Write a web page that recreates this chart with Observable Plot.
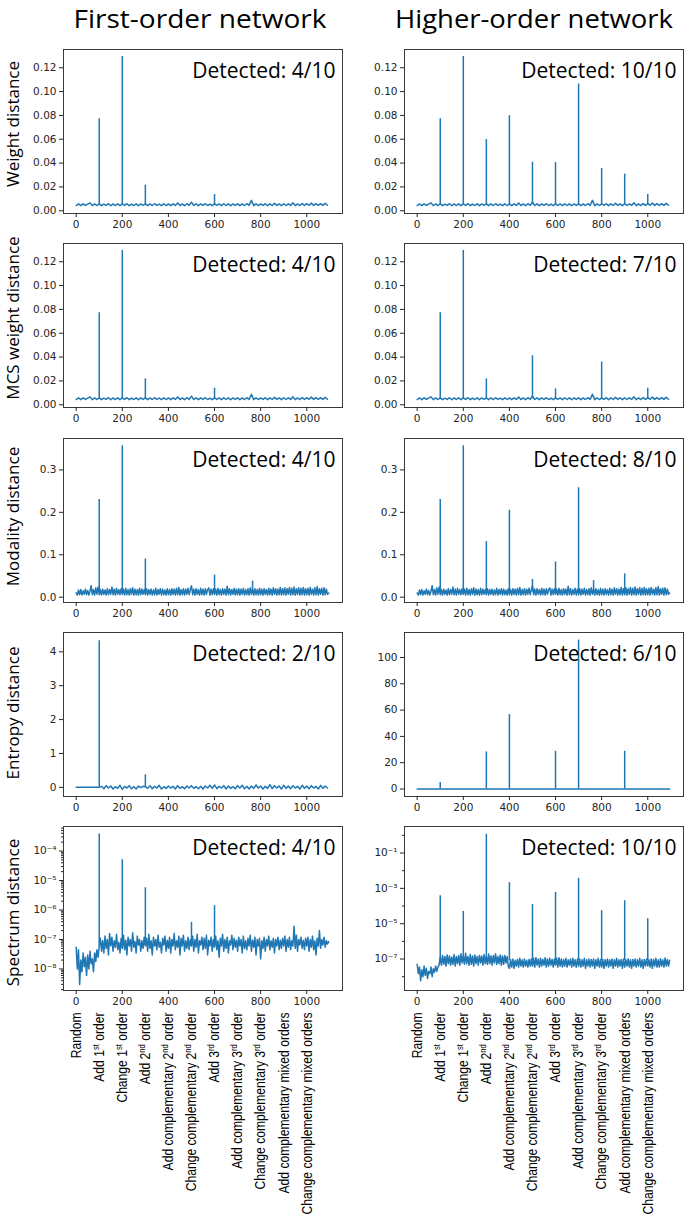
<!DOCTYPE html>
<html><head><meta charset="utf-8">
<script src="https://cdn.jsdelivr.net/npm/d3@7"></script>
<script src="https://cdn.jsdelivr.net/npm/@observablehq/plot@0.6"></script>
<style>
body{margin:0;background:#fff;}
#root{position:relative;width:685px;height:1217px;overflow:hidden;background:#fff;}
.panel{position:absolute;}
.panel svg{overflow:visible;}
#overlay{position:absolute;left:0;top:0;pointer-events:none;}
</style></head><body><div id="root"></div>
<script>
// ---------- text ----------
const columnTitles = ["First-order network", "Higher-order network"];
const rowLabels = ["Weight distance", "MCS weight distance", "Modality distance", "Entropy distance", "Spectrum distance"];
const detectedLeft = ["Detected: 4/10", "Detected: 4/10", "Detected: 4/10", "Detected: 2/10", "Detected: 4/10"];
const detectedRight = ["Detected: 10/10", "Detected: 7/10", "Detected: 8/10", "Detected: 6/10", "Detected: 10/10"];
const categories = ["Random", "Add 1^st order", "Change 1^st order", "Add 2^nd order", "Add complementary 2^nd order",
  "Change complementary 2^nd order", "Add 3^rd order", "Add complementary 3^rd order", "Change complementary 3^rd order",
  "Add complementary mixed orders", "Change complementary mixed orders"];
const categoryX = [0, 100, 200, 300, 400, 500, 600, 700, 800, 900, 1000];
const xTicks = [0, 200, 400, 600, 800, 1000];
const weightTicks = [0, 0.02, 0.04, 0.06, 0.08, 0.10, 0.12];
const modalityTicks = [0, 0.1, 0.2, 0.3];
const entropyTicksL = [0, 1, 2, 3, 4];
const entropyTicksR = [0, 20, 40, 60, 80, 100];
const spectrumTicksL = [1e-8, 1e-7, 1e-6, 1e-5, 1e-4];
const spectrumTicksR = [1e-7, 1e-5, 1e-3, 1e-1];

// ---------- baselines (x = index * step) ----------
const weightStep = 10;
const weightBase = [
0.0044,0.0057,0.0043,0.0058,0.0045,0.0056,0.0066,0.0043,0.0057,0.0044,
0.0058,0.0043,0.0056,0.0045,0.0059,0.0042,0.0057,0.0044,0.0058,0.0043,
0.0057,0.0045,0.0059,0.0043,0.0056,0.0044,0.0058,0.0042,0.0057,0.0045,
0.0058,0.0043,0.0057,0.0044,0.0059,0.0045,0.0056,0.0043,0.0058,0.0044,
0.0057,0.0043,0.0058,0.0045,0.0066,0.0044,0.0057,0.0043,0.0059,0.0045,
0.0072,0.0044,0.0058,0.0043,0.0057,0.0045,0.0059,0.0044,0.0056,0.0043,
0.0058,0.0045,0.0057,0.0043,0.0059,0.0044,0.0058,0.0042,0.0057,0.0045,
0.0058,0.0043,0.0057,0.0044,0.0059,0.0045,0.0087,0.0043,0.0058,0.0044,
0.0057,0.0045,0.0059,0.0043,0.0058,0.0044,0.0063,0.0045,0.0057,0.0043,
0.0059,0.0044,0.0058,0.0045,0.0067,0.0043,0.0057,0.0044,0.0060,0.0045,
0.0059,0.0046,0.0064,0.0045,0.0060,0.0046,0.0059,0.0045,0.0062,0.0046];

const modalityStep = 5;
const modalityBase = [
0.010,0.005,0.017,0.006,0.018,0.005,0.015,0.007,0.019,0.006,0.016,0.005,0.014,0.027,0.006,0.018,0.005,0.022,0.007,0.024,
0.006,0.018,0.005,0.019,0.007,0.017,0.005,0.020,0.006,0.018,0.007,0.024,0.006,0.019,0.005,0.021,0.007,0.018,0.006,0.020,
0.007,0.019,0.005,0.021,0.006,0.018,0.005,0.020,0.007,0.022,0.005,0.019,0.006,0.018,0.005,0.021,0.006,0.019,0.007,0.018,
0.006,0.020,0.005,0.018,0.007,0.019,0.005,0.017,0.006,0.021,0.005,0.018,0.007,0.020,0.005,0.019,0.006,0.017,0.005,0.020,
0.006,0.018,0.005,0.020,0.007,0.019,0.005,0.021,0.006,0.023,0.005,0.018,0.006,0.020,0.005,0.019,0.007,0.021,0.006,0.018,
0.027,0.006,0.019,0.005,0.020,0.007,0.018,0.005,0.021,0.006,0.019,0.005,0.020,0.007,0.018,0.022,0.005,0.019,0.006,0.020,
0.007,0.019,0.005,0.021,0.006,0.018,0.005,0.020,0.007,0.019,0.005,0.026,0.006,0.020,0.005,0.018,0.007,0.021,0.005,0.019,
0.006,0.020,0.005,0.019,0.007,0.021,0.005,0.018,0.006,0.020,0.005,0.022,0.007,0.019,0.005,0.020,0.006,0.018,0.005,0.021,
0.006,0.019,0.005,0.020,0.007,0.018,0.005,0.021,0.006,0.019,0.005,0.022,0.007,0.020,0.005,0.019,0.006,0.023,0.005,0.020,
0.006,0.022,0.005,0.020,0.007,0.023,0.005,0.021,0.006,0.024,0.005,0.020,0.007,0.022,0.005,0.021,0.006,0.023,0.005,0.020,
0.006,0.021,0.005,0.023,0.007,0.019,0.005,0.022,0.006,0.025,0.005,0.020,0.007,0.021,0.005,0.022,0.006,0.019,0.007,0.010];

const entropyStepL = 10;
const entropyBaseL = [
0,0,0,0,0,0,0,0,0,0,
0.00,0.03,-0.04,0.05,-0.02,0.04,-0.05,0.02,-0.03,0.06,
-0.06,0.03,-0.02,0.05,-0.04,0.02,-0.05,0.04,-0.01,0.03,
0.02,-0.03,0.05,-0.04,0.03,-0.02,0.06,-0.05,0.02,-0.03,
0.04,-0.02,0.03,-0.05,0.05,-0.03,0.02,-0.04,0.04,-0.02,
0.05,-0.03,0.02,-0.04,0.03,-0.05,0.04,-0.02,0.06,-0.03,
0.07,-0.04,0.03,-0.02,0.05,-0.05,0.04,-0.03,0.02,-0.04,
0.05,-0.02,0.06,-0.04,0.03,-0.05,0.04,-0.03,0.07,-0.02,
0.04,-0.05,0.03,-0.03,0.08,-0.04,0.05,-0.02,0.04,-0.05,
0.06,-0.03,0.04,-0.04,0.05,-0.02,0.03,-0.05,0.06,-0.03,
0.04,-0.04,0.05,-0.02,0.03,-0.05,0.06,-0.03,0.04,-0.02];

const entropyStepR = 100;
const entropyBaseR = [0,0,0,0,0,0,0,0,0,0,0,0];

const spectrumStep = 5;
const spectrumBaseL = [
5.5e-8,1.0e-8,4.5e-8,3.0e-9,2.0e-8,8.0e-9,3.5e-8,1.2e-8,2.5e-8,6.0e-9,3.0e-8,1.0e-8,4.0e-8,1.5e-8,2.2e-8,8.0e-9,3.5e-8,1.8e-8,4.5e-8,2.5e-8,
6.0e-8,1.1e-7,4.0e-8,9.0e-8,3.5e-8,1.3e-7,5.0e-8,1.0e-7,3.0e-8,1.6e-7,6.0e-8,1.2e-7,4.0e-8,9.0e-8,5.5e-8,1.5e-7,4.5e-8,8.0e-8,3.5e-8,1.1e-7,
5.0e-8,1.4e-7,4.5e-8,9.5e-8,3.0e-8,1.2e-7,6.0e-8,1.0e-7,4.0e-8,1.7e-7,5.5e-8,8.5e-8,3.5e-8,1.3e-7,6.5e-8,1.0e-7,4.0e-8,9.0e-8,5.0e-8,1.2e-7,
6.0e-8,1.1e-7,4.0e-8,1.5e-7,5.0e-8,9.0e-8,3.0e-8,1.2e-7,6.0e-8,1.0e-7,4.5e-8,1.4e-7,5.5e-8,8.0e-8,3.5e-8,1.1e-7,6.5e-8,1.3e-7,4.0e-8,9.5e-8,
5.0e-8,1.2e-7,3.5e-8,1.0e-7,6.0e-8,1.6e-7,4.5e-8,9.0e-8,5.5e-8,1.3e-7,3.0e-8,1.1e-7,6.0e-8,1.4e-7,4.0e-8,9.0e-8,5.0e-8,1.2e-7,4.5e-8,1.0e-7,
6.0e-8,1.3e-7,4.0e-8,1.0e-7,5.5e-8,1.5e-7,3.5e-8,9.0e-8,6.5e-8,1.2e-7,4.5e-8,1.1e-7,5.0e-8,1.4e-7,3.0e-8,9.5e-8,6.0e-8,1.2e-7,4.0e-8,1.0e-7,
5.5e-8,1.3e-7,4.5e-8,9.0e-8,2.5e-8,1.1e-7,6.0e-8,1.5e-7,4.0e-8,1.0e-7,5.0e-8,1.2e-7,3.5e-8,9.0e-8,6.5e-8,1.4e-7,4.5e-8,1.1e-7,5.5e-8,9.5e-8,
4.0e-8,1.2e-7,6.0e-8,1.0e-7,3.5e-8,1.3e-7,5.0e-8,9.0e-8,4.5e-8,1.1e-7,6.0e-8,1.4e-7,4.0e-8,9.5e-8,5.5e-8,1.2e-7,3.0e-8,1.0e-7,6.0e-8,1.1e-7,
2.2e-8,9.0e-8,5.0e-8,1.2e-7,4.0e-8,1.0e-7,6.0e-8,1.3e-7,4.5e-8,9.0e-8,5.5e-8,1.1e-7,3.5e-8,1.0e-7,6.0e-8,1.2e-7,4.5e-8,9.5e-8,5.0e-8,1.1e-7,
6.0e-8,1.3e-7,4.0e-8,1.0e-7,5.5e-8,1.2e-7,4.5e-8,9.0e-8,6.0e-8,2.8e-7,5.0e-8,1.4e-7,4.0e-8,1.0e-7,6.5e-8,1.2e-7,5.0e-8,9.5e-8,4.5e-8,1.1e-7,
6.0e-8,1.2e-7,4.0e-8,1.0e-7,5.5e-8,1.3e-7,4.5e-8,9.0e-8,3.0e-8,1.1e-7,6.0e-8,2.0e-7,5.0e-8,1.0e-7,6.5e-8,1.2e-7,5.5e-8,9.0e-8,7.0e-8,8.5e-8];

const spectrumBaseR = [
5.0e-8,1.5e-8,3.5e-8,6.0e-9,2.5e-8,1.0e-8,4.0e-8,1.2e-8,3.0e-8,8.0e-9,2.0e-8,1.5e-8,3.5e-8,1.0e-8,2.8e-8,1.8e-8,4.0e-8,2.0e-8,3.5e-8,4.5e-8,
1.3e-7,4.5e-8,1.6e-7,5.0e-8,1.4e-7,4.0e-8,1.7e-7,5.5e-8,1.5e-7,4.5e-8,1.3e-7,5.0e-8,1.8e-7,4.0e-8,1.4e-7,5.5e-8,1.6e-7,4.5e-8,2.0e-7,6.0e-8,
1.5e-7,5.0e-8,2.1e-7,5.5e-8,1.4e-7,4.5e-8,1.8e-7,5.0e-8,1.5e-7,4.0e-8,1.7e-7,5.5e-8,1.4e-7,4.5e-8,1.6e-7,6.0e-8,1.5e-7,4.5e-8,1.8e-7,5.5e-8,
1.4e-7,5.0e-8,1.9e-7,5.5e-8,1.5e-7,4.5e-8,1.6e-7,6.0e-8,2.0e-7,5.0e-8,1.4e-7,5.5e-8,1.7e-7,4.5e-8,1.5e-7,5.0e-8,1.6e-7,6.0e-8,1.4e-7,4.0e-8,
3.0e-8,9.0e-8,3.5e-8,1.0e-7,3.0e-8,8.5e-8,4.0e-8,9.5e-8,3.5e-8,1.1e-7,4.0e-8,9.0e-8,3.5e-8,1.0e-7,4.0e-8,8.5e-8,3.5e-8,9.5e-8,4.0e-8,1.0e-7,
4.0e-8,1.1e-7,3.5e-8,1.2e-7,4.5e-8,1.0e-7,3.5e-8,1.1e-7,4.0e-8,9.5e-8,4.5e-8,1.2e-7,3.5e-8,1.0e-7,4.0e-8,1.1e-7,4.5e-8,9.5e-8,3.5e-8,1.0e-7,
4.5e-8,1.1e-7,3.5e-8,1.2e-7,4.0e-8,1.0e-7,3.5e-8,9.5e-8,4.0e-8,1.1e-7,3.5e-8,9.0e-8,4.5e-8,1.0e-7,3.5e-8,1.1e-7,4.0e-8,9.0e-8,3.5e-8,1.0e-7,
4.0e-8,1.0e-7,3.5e-8,9.0e-8,4.0e-8,1.1e-7,3.0e-8,9.0e-8,4.0e-8,1.0e-7,3.5e-8,9.5e-8,4.0e-8,1.0e-7,3.0e-8,9.0e-8,4.0e-8,1.1e-7,3.5e-8,9.0e-8,
3.5e-8,9.5e-8,3.0e-8,9.0e-8,4.0e-8,1.0e-7,3.5e-8,9.0e-8,4.0e-8,1.0e-7,3.0e-8,9.0e-8,4.0e-8,1.1e-7,3.5e-8,9.0e-8,4.0e-8,9.5e-8,3.0e-8,1.0e-7,
3.5e-8,9.0e-8,4.0e-8,1.05e-7,3.5e-8,9.0e-8,3.0e-8,9.5e-8,4.0e-8,1.0e-7,3.5e-8,9.0e-8,4.0e-8,1.1e-7,3.5e-8,9.0e-8,3.0e-8,9.5e-8,4.0e-8,1.0e-7,
4.0e-8,9.0e-8,3.5e-8,1.0e-7,3.0e-8,9.5e-8,4.0e-8,1.1e-7,3.5e-8,9.0e-8,3.5e-8,1.05e-7,4.0e-8,9.0e-8,3.5e-8,1.15e-7,4.0e-8,9.5e-8,4.0e-8,8.5e-8];

// ---------- spikes ----------
const weightSpikeXL = [100, 200, 300, 600];
const weightSpikeYL = [0.0773, 0.1295, 0.0215, 0.0137];
const weightSpikeXR = [100, 200, 300, 400, 500, 600, 700, 800, 900, 1000];
const weightSpikeYR = [0.0773, 0.1295, 0.0597, 0.0798, 0.0407, 0.0405, 0.1063, 0.0354, 0.0307, 0.0137];
const mcsSpikeXL = [100, 200, 300, 600];
const mcsSpikeYL = [0.0772, 0.1295, 0.0217, 0.0139];
const mcsSpikeXR = [100, 200, 300, 500, 600, 800, 1000];
const mcsSpikeYR = [0.0772, 0.1295, 0.0217, 0.0411, 0.0133, 0.0358, 0.0139];
const modSpikeXL = [100, 200, 300, 600, 765];
const modSpikeYL = [0.230, 0.357, 0.090, 0.052, 0.038];
const modSpikeXR = [100, 200, 300, 400, 500, 600, 700, 765, 900];
const modSpikeYR = [0.230, 0.357, 0.131, 0.205, 0.042, 0.083, 0.258, 0.039, 0.055];
const entSpikeXL = [100, 300];
const entSpikeYL = [4.33, 0.37];
const entSpikeXR = [100, 300, 400, 600, 700, 900];
const entSpikeYR = [5.0, 28.2, 56.6, 28.7, 113.2, 28.7];
const specSpikeXL = [100, 200, 300, 500, 600];
const specSpikeYL = [3.8e-4, 5.1e-5, 5.7e-6, 3.8e-7, 1.4e-6];
const specSpikeXR = [100, 200, 300, 400, 500, 600, 700, 800, 900, 1000];
const specSpikeYR = [3.8e-4, 4.9e-5, 1.15, 2.1e-3, 1.2e-4, 5.9e-4, 3.7e-3, 5.4e-5, 2.0e-4, 1.9e-5];

// ---------- layout ----------
const blue = "#1f77b4";
const frameTops = [49, 243, 438, 632, 826];
const frameH = 164;
const supMap = {"-": "⁻", "0": "⁰", "1": "¹", "2": "²", "3": "³", "4": "⁴", "5": "⁵", "6": "⁶", "7": "⁷", "8": "⁸", "9": "⁹"};
const logFmt = d => "10" + String(Math.round(Math.log10(d))).split("").map(c => supMap[c]).join("");
const f2 = d3.format(".2f"), f1 = d3.format(".1f"), f0 = d3.format("d");

function minorLog(lo, hi, mults) {
  const out = [];
  for (let e = -10; e <= 1; e++) for (const m of mults) { const v = m * Math.pow(10, e); if (v >= lo && v <= hi) out.push(v); }
  return out;
}

const wDom = [-0.0023, 0.1353];
const panels = [
  [ {base: weightBase, step: weightStep, sx: weightSpikeXL, sy: weightSpikeYL, sb: 0.005, dom: wDom, ticks: weightTicks, fmt: f2, det: detectedLeft[0]},
    {base: weightBase, step: weightStep, sx: weightSpikeXR, sy: weightSpikeYR, sb: 0.005, dom: wDom, ticks: weightTicks, fmt: f2, det: detectedRight[0]} ],
  [ {base: weightBase, step: weightStep, sx: mcsSpikeXL, sy: mcsSpikeYL, sb: 0.005, dom: wDom, ticks: weightTicks, fmt: f2, det: detectedLeft[1]},
    {base: weightBase, step: weightStep, sx: mcsSpikeXR, sy: mcsSpikeYR, sb: 0.005, dom: wDom, ticks: weightTicks, fmt: f2, det: detectedRight[1]} ],
  [ {base: modalityBase, step: modalityStep, sx: modSpikeXL, sy: modSpikeYL, sb: 0.012, dom: [-0.0125, 0.374], ticks: modalityTicks, fmt: f1, det: detectedLeft[2]},
    {base: modalityBase, step: modalityStep, sx: modSpikeXR, sy: modSpikeYR, sb: 0.012, dom: [-0.0125, 0.374], ticks: modalityTicks, fmt: f1, det: detectedRight[2]} ],
  [ {base: entropyBaseL, step: entropyStepL, sx: entSpikeXL, sy: entSpikeYL, sb: 0, dom: [-0.27, 4.57], ticks: entropyTicksL, fmt: f0, det: detectedLeft[3]},
    {base: entropyBaseR, step: entropyStepR, sx: entSpikeXR, sy: entSpikeYR, sb: 0, dom: [-5.7, 119], ticks: entropyTicksR, fmt: f0, det: detectedRight[3]} ],
  [ {base: spectrumBaseL, step: spectrumStep, sx: specSpikeXL, sy: specSpikeYL, sb: 6e-8, dom: [1.86e-9, 6.8e-4], log: true, ticks: spectrumTicksL, fmt: logFmt,
      minor: minorLog(1.86e-9, 6.8e-4, [2,3,4,5,6,7,8,9]), det: detectedLeft[4]},
    {base: spectrumBaseR, step: spectrumStep, sx: specSpikeXR, sy: specSpikeYR, sb: 8e-8, dom: [1.66e-9, 3.16], log: true, ticks: spectrumTicksR, fmt: logFmt,
      minor: minorLog(1.66e-9, 3.16, [1]).filter(v => !spectrumTicksR.some(t => Math.abs(t - v) / v < 1e-6)), det: detectedRight[4]} ]
];

const root = d3.select("#root");
const plainCats = categories.map(c => c.replace("^", ""));
const catNodes = [];

panels.forEach((rowPanels, row) => {
  rowPanels.forEach((p, col) => {
    const bottom = row === 4;
    const mt = 5, mb = bottom ? 1217 - (frameTops[row] + frameH) : 25;
    const pts = p.base.map((v, i) => ({x: Math.min(i * p.step, 1095), y: v}));
    const spk = p.sx.map((x, i) => ({x, y: p.sy[i]}));
    const marks = [
      Plot.line(pts, {x: "x", y: "y", stroke: blue, strokeWidth: 1.5}),
      Plot.ruleX(spk, {x: "x", y1: () => p.sb, y2: "y", stroke: blue, strokeWidth: 1.5}),
      Plot.frame({stroke: "#3a3a3a", strokeWidth: 1}),
      Plot.axisX({ticks: xTicks, tickSize: 4, tickPadding: 3, label: null, tickFormat: d => String(d)}),
      Plot.axisY({ticks: p.ticks, tickSize: 4, tickPadding: 3, label: null, tickFormat: p.fmt}),
      Plot.text([p.det], {text: d => d, frameAnchor: "top-right", dx: -7, dy: 14, fontSize: 21,
        fontFamily: "'Open Sans', sans-serif", fill: "#000"})
    ];
    if (p.minor) marks.push(Plot.axisY({ticks: p.minor, tickSize: 2, label: null, tickFormat: () => ""}));
    if (bottom) marks.push(Plot.text(categories, {x: (d, i) => categoryX[i], text: d => d, frameAnchor: "bottom",
      rotate: -90, textAnchor: "end", lineAnchor: "middle", dy: 22, fontSize: 15,
      fontFamily: "'Liberation Sans', Arial, sans-serif", fill: "#000"}));
    const svg = Plot.plot({
      width: 345, height: mt + frameH + mb,
      marginLeft: col === 0 ? 63 : 64, marginRight: col === 0 ? 3 : 2, marginTop: mt, marginBottom: mb,
      style: {fontFamily: "'DejaVu Sans', sans-serif", fontSize: "10.5px", color: "#262626", background: "transparent"},
      x: {domain: [-55, 1155]},
      y: p.log ? {type: "log", domain: p.dom} : {domain: p.dom},
      marks
    });
    // superscripts in category labels
    d3.select(svg).selectAll("text").each(function() {
      const t = this.textContent;
      if (!plainCats.includes(t) && !categories.includes(t)) return;
      catNodes.push(this);
      const m = t.match(/^(.*?)\^(\w+)(.*)$/);
      if (!m) return;
      const el = d3.select(this);
      el.text(null);
      el.append("tspan").text(m[1]);
      el.append("tspan").attr("font-size", "9.5px").attr("dy", -5.5).text(m[2]);
      el.append("tspan").attr("dy", 5.5).text(m[3]);
    });
    root.append("div").attr("class", "panel")
      .style("left", (col === 0 ? 0 : 340) + "px")
      .style("top", (frameTops[row] - mt) + "px")
      .node().appendChild(svg);
  });
});

// condense category labels along their reading direction (narrow typeface look)
const maxLen = d3.max(catNodes, n => n.getComputedTextLength());
const squeeze = 202 / maxLen;
catNodes.forEach(n => {
  const tr = n.getAttribute("transform") || "";
  n.setAttribute("transform", tr + ` scale(${squeeze},1)`);
});

// titles and row labels
const ov = root.append("svg").attr("id", "overlay").attr("width", 685).attr("height", 1217);
const titleX = [200, 534];
const titleW = [253, 278];
columnTitles.forEach((t, i) => {
  ov.append("text").attr("x", titleX[i]).attr("y", 28).attr("text-anchor", "middle")
    .attr("font-family", "'Open Sans', sans-serif").attr("font-size", 26)
    .attr("textLength", titleW[i]).attr("lengthAdjust", "spacingAndGlyphs")
    .attr("fill", "#000").text(t);
});
const labelY = [124, 318, 516.5, 713, 912.5];
rowLabels.forEach((t, i) => {
  ov.append("text").attr("transform", `translate(12,${labelY[i]}) rotate(-90)`)
    .attr("text-anchor", "middle").attr("dominant-baseline", "central")
    .attr("font-family", "'Open Sans', sans-serif").attr("font-size", 17).attr("fill", "#000").text(t);
});
</script></body></html>
